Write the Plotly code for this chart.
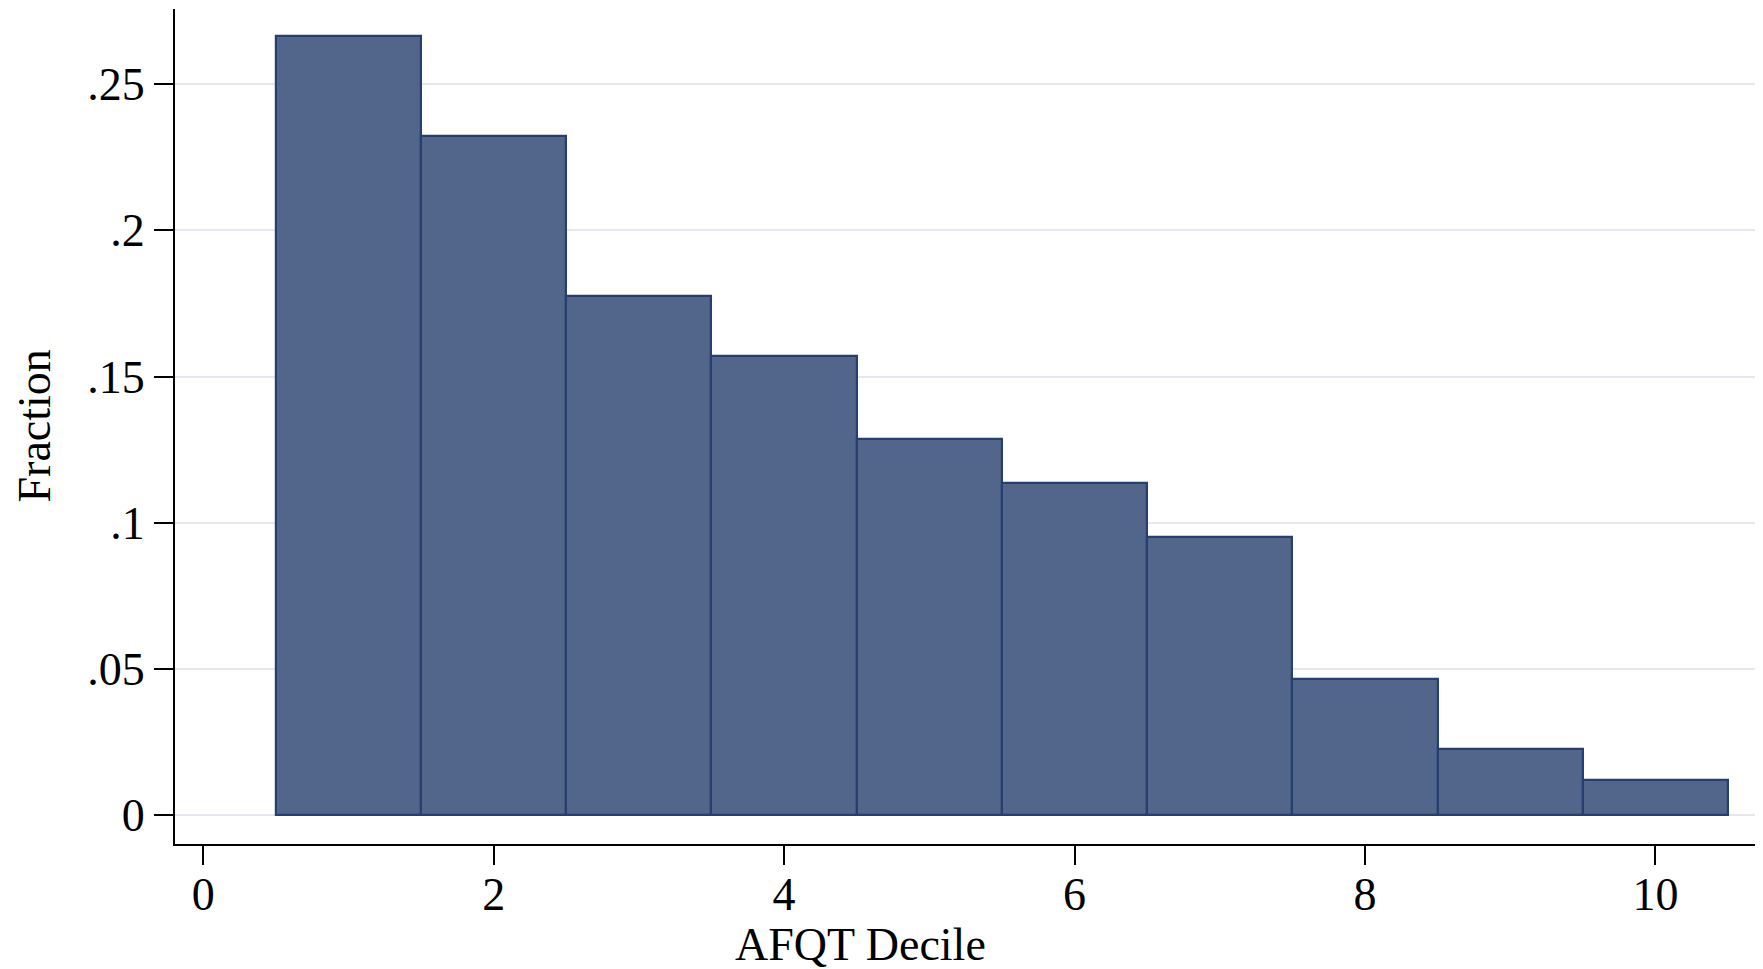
import plotly.graph_objects as go

deciles = [1, 2, 3, 4, 5, 6, 7, 8, 9, 10]
fractions = [0.2663, 0.2322, 0.1775, 0.1569, 0.1285, 0.1135, 0.0952, 0.0467, 0.0226, 0.0120]
x_ticks = [0, 2, 4, 6, 8, 10]
y_ticks = [0, 0.05, 0.10, 0.15, 0.20, 0.25]
y_tick_labels = ["0", ".05", ".1", ".15", ".2", ".25"]

FONT = "Liberation Serif"
FS = 46

fig = go.Figure()
fig.add_trace(go.Bar(
    x=deciles, y=fractions, width=1,
    marker=dict(color="#52668B", line=dict(color="#263F6E", width=2.2)),
))

fig.update_layout(
    width=1755, height=961,
    margin=dict(l=167, r=3, t=1, b=125, autoexpand=False),
    plot_bgcolor="white", paper_bgcolor="white",
    bargap=0, showlegend=False,
    font=dict(family=FONT, size=FS, color="black"),
    annotations=[
        dict(text="AFQT Decile", xref="paper", yref="paper", x=0.4327, y=0,
             xanchor="center", yanchor="middle", yshift=-100, showarrow=False,
             font=dict(size=FS)),
        dict(text="Fraction", xref="paper", yref="paper", x=0, y=0.5,
             xanchor="center", yanchor="middle", xshift=-141, textangle=-90,
             showarrow=False, font=dict(size=FS)),
    ],
)
fig.update_xaxes(
    range=[-0.194, 10.72],
    tickmode="array", tickvals=x_ticks, ticktext=[str(v) for v in x_ticks],
    ticks="outside", ticklen=19, tickwidth=1.5, tickcolor="black",
    ticklabelstandoff=-10,
    showline=True, linecolor="black", linewidth=2,
    showgrid=False, zeroline=False,
)
fig.update_yaxes(
    range=[-0.00985, 0.2757],
    tickmode="array", tickvals=y_ticks, ticktext=y_tick_labels,
    ticks="outside", ticklen=19, tickwidth=1.5, tickcolor="black",
    showline=True, linecolor="black", linewidth=2,
    showgrid=True, gridcolor="#E3E7F0", gridwidth=2,
    zeroline=False,
)

fig.write_html("out.html")
